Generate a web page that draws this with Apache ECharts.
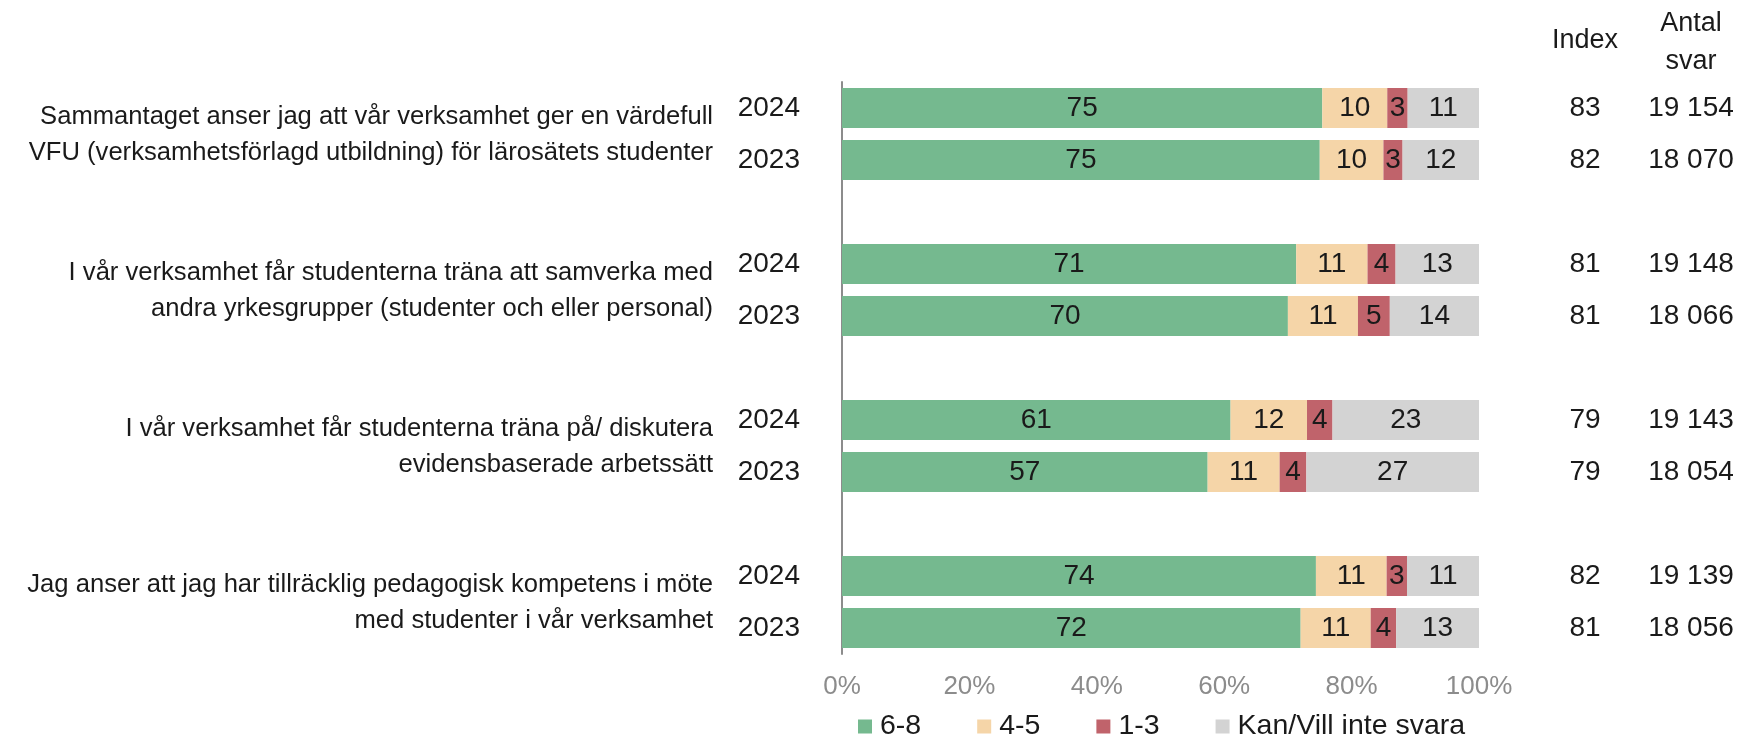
<!DOCTYPE html>
<html lang="sv">
<head>
    <meta charset="UTF-8">
    <title>VFU enkät</title>
    <script src="https://cdn.jsdelivr.net/npm/echarts@6.0.0/dist/echarts.min.js"></script>
    <style>
        html, body { margin: 0; padding: 0; background: #fff; }
    </style>
</head>
<body>
    <div id="main" style="width: 1754px; height: 739px;"></div>

    <script type="text/javascript">
        // questions, two survey years per question
        const questions = [
            'Sammantaget anser jag att vår verksamhet ger en värdefull\nVFU (verksamhetsförlagd utbildning) för lärosätets studenter',
            'I vår verksamhet får studenterna träna att samverka med\nandra yrkesgrupper (studenter och eller personal)',
            'I vår verksamhet får studenterna träna på/ diskutera\nevidensbaserade arbetssätt',
            'Jag anser att jag har tillräcklig pedagogisk kompetens i möte\nmed studenter i vår verksamhet'
        ]
        const years = ['2024', '2023']

        // percent per row (2024, 2023 for each question, top to bottom)
        const score68 = [75.4, 75, 71.3, 70, 61, 57.4, 74.4, 72]
        const score45 = [10.2, 10, 11.2, 11, 12, 11.3, 11.1, 11]
        const score13 = [3.2, 3, 4.4, 5, 4, 4.2, 3.2, 4]
        const noAnswer = [11.2, 12, 13.1, 14, 23, 27.1, 11.3, 13]

        const indexValues = [83, 82, 81, 81, 79, 79, 82, 81]
        const answerCounts = ['19 154', '18 070', '19 148', '18 066', '19 143', '18 054', '19 139', '18 056']

        const seriesNames = ['6-8', '4-5', '1-3', 'Kan/Vill inte svara']
        const colors = ['#75b98f', '#f5d5a8', '#c0636b', '#d3d3d3']

        const font = 'Liberation Sans, Arial, sans-serif'
        const textColor = '#1a1a1a'
        const gridLeft = 842, gridTop = 82, gridWidth = 637, gridHeight = 572
        const indexMargin = 106, countMargin = 212

        // build category slots with an empty spacer between questions
        let slots = [], rowOfSlot = []
        questions.forEach((q, g) => {
            years.forEach((y, k) => {
                slots.push(y)
                rowOfSlot.push(g * 2 + k)
            })
            if (g < questions.length - 1) {
                slots.push('')
                rowOfSlot.push(-1)
            }
        })

        function spread(arr) {
            return rowOfSlot.map(r => r < 0 ? '-' : arr[r])
        }
        function spreadLabels(arr) {
            return rowOfSlot.map(r => r < 0 ? '' : String(arr[r]))
        }

        let myChart = echarts.init(document.getElementById('main'))

        let series = [score68, score45, score13, noAnswer].map((vals, i) => ({
            name: seriesNames[i],
            type: 'bar',
            stack: 'total',
            barWidth: 40,
            yAxisIndex: 0,
            data: spread(vals),
            itemStyle: { color: colors[i] },
            label: {
                show: true,
                position: 'inside',
                color: textColor,
                fontFamily: font,
                fontSize: 28,
                formatter: p => Math.round(p.value)
            }
        }))

        let options = {
            animation: false,
            textStyle: { fontFamily: font },
            grid: {
                left: gridLeft, top: gridTop, width: gridWidth, height: gridHeight,
                containLabel: false, outerBoundsMode: 'none'
            },
            legend: {
                left: 858,
                top: 712,
                padding: 0,
                itemWidth: 14,
                itemHeight: 14,
                itemGap: 56,
                icon: 'rect',
                textStyle: {
                    fontSize: 28.5, lineHeight: 28, color: textColor, fontFamily: font,
                    padding: [0, 0, 0, 3]
                },
                data: seriesNames
            },
            xAxis: {
                type: 'value',
                min: 0, max: 100, interval: 20,
                axisLine: { show: false },
                axisTick: { show: false },
                splitLine: { show: false },
                axisLabel: {
                    formatter: '{value}%',
                    color: '#8c8c8c',
                    fontSize: 26,
                    fontFamily: font,
                    margin: 20
                }
            },
            yAxis: [
                {
                    type: 'category',
                    inverse: true,
                    data: slots,
                    axisLine: { show: true, lineStyle: { color: '#8c8c8c', width: 2 } },
                    axisTick: { show: false },
                    axisLabel: { color: textColor, fontSize: 28, fontFamily: font, margin: 42 }
                },
                {
                    type: 'category',
                    inverse: true,
                    position: 'right',
                    data: spreadLabels(indexValues),
                    axisLine: { show: false },
                    axisTick: { show: false },
                    axisLabel: { color: textColor, fontSize: 28, fontFamily: font, align: 'center', margin: indexMargin }
                },
                {
                    type: 'category',
                    inverse: true,
                    position: 'right',
                    data: spreadLabels(answerCounts),
                    axisLine: { show: false },
                    axisTick: { show: false },
                    axisLabel: { color: textColor, fontSize: 28, fontFamily: font, align: 'center', margin: countMargin }
                }
            ],
            series: series
        }

        myChart.setOption(options)

        // question texts centred on each pair of bars
        let graphics = questions.map((q, g) => {
            let first = rowOfSlot.indexOf(g * 2)
            let y1 = myChart.convertToPixel({ yAxisIndex: 0 }, first)
            let y2 = myChart.convertToPixel({ yAxisIndex: 0 }, first + 1)
            return {
                type: 'text',
                x: 713,
                y: (y1 + y2) / 2 + 1,
                style: {
                    text: q,
                    align: 'right',
                    verticalAlign: 'middle',
                    lineHeight: 36,
                    fontSize: 25.6,
                    fontFamily: font,
                    fill: textColor
                }
            }
        })
        let rightEdge = gridLeft + gridWidth
        graphics.push({
            type: 'text', x: rightEdge + indexMargin, y: 41,
            style: { text: 'Index', align: 'center', verticalAlign: 'middle', fontSize: 27, fontFamily: font, fill: textColor }
        })
        graphics.push({
            type: 'text', x: rightEdge + countMargin, y: 43,
            style: { text: 'Antal\nsvar', align: 'center', verticalAlign: 'middle', lineHeight: 38, fontSize: 27, fontFamily: font, fill: textColor }
        })
        myChart.setOption({ graphic: graphics })
    </script>
</body>
</html>
